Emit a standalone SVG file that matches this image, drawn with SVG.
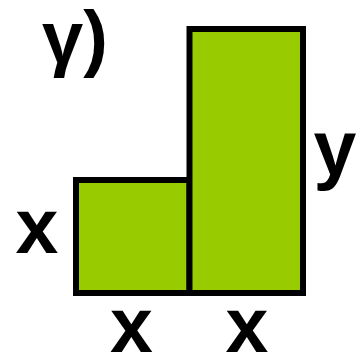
<svg xmlns="http://www.w3.org/2000/svg" width="360" height="354" viewBox="0 0 360 354">
<style>
.box{fill:#99cc00;stroke:#000;stroke-width:6}
.lbl{font-family:"Liberation Sans",Arial,sans-serif;font-weight:bold;fill:#000;text-anchor:middle}
</style>
<rect width="360" height="354" fill="#fff"/>
<g id="title"><text class="lbl" x="42" y="63" font-size="74" style="text-anchor:start">γ)</text></g>
<g id="small"><rect class="box" x="76" y="180" width="113.5" height="113"/></g>
<g id="tall"><rect class="box" x="189.5" y="29" width="113.5" height="264"/></g>
<g id="labels">
<text class="lbl" x="37" y="253" font-size="77">x</text>
<text class="lbl" x="131.5" y="352" font-size="77">x</text>
<text class="lbl" x="247" y="352" font-size="77">x</text>
<text class="lbl" x="335" y="175" font-size="77">y</text>
</g>
<g id="connectors"/>
</svg>
